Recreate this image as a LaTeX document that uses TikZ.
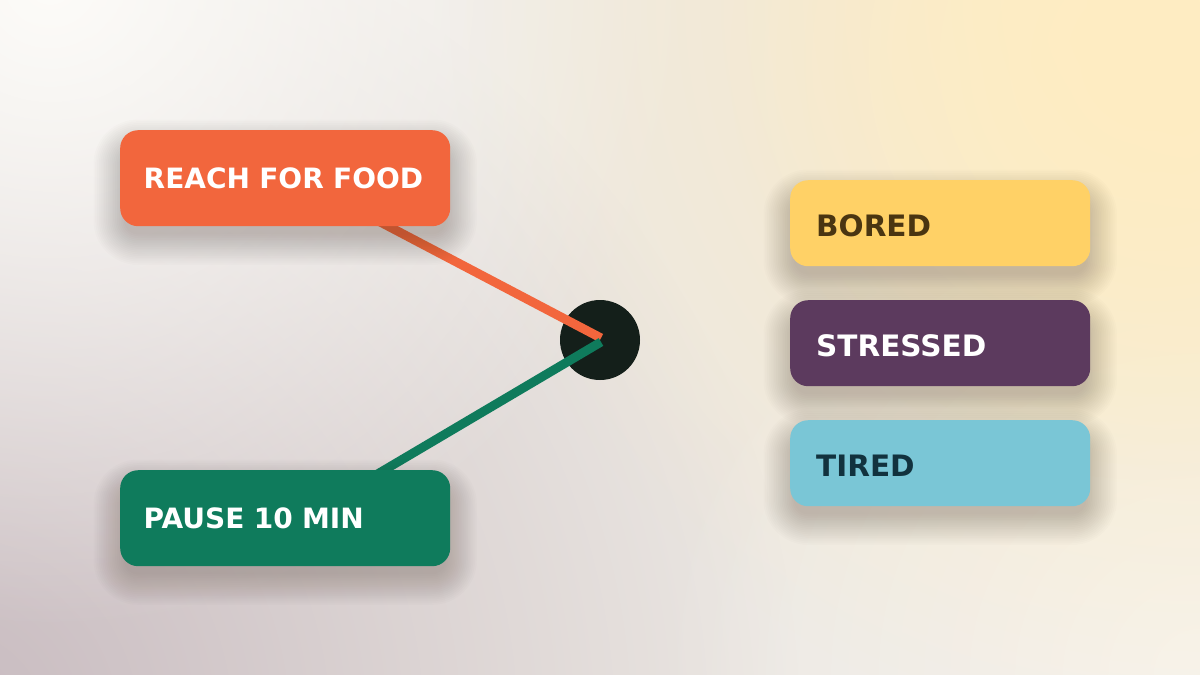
\documentclass[tikz,border=0pt]{standalone}
\usepackage{fontspec}
\setmainfont{DejaVu Sans}
\usetikzlibrary{fadings,calc}
\definecolor{bgbase}{HTML}{ECE8E3}
\definecolor{bgyellow}{HTML}{FFEDC2}
\definecolor{bgmauve}{HTML}{C8BBC0}
\definecolor{bgwhite}{HTML}{FDFCF9}
\definecolor{bglight}{HTML}{F7F4EF}
\definecolor{reachc}{HTML}{F2663D}
\definecolor{pausec}{HTML}{0F7B5C}
\definecolor{boredc}{HTML}{FFD166}
\definecolor{stressc}{HTML}{5C3A5E}
\definecolor{tiredc}{HTML}{7AC6D6}
\definecolor{hubc}{HTML}{141F1A}
\definecolor{boredtext}{HTML}{4A3511}
\definecolor{tiredtext}{HTML}{12323E}
\definecolor{shadowc}{HTML}{4A3A30}
\tikzfading[name=glow, inner color=transparent!0, outer color=transparent!100]
\pgfdeclarelayer{bglayer}
\pgfdeclarelayer{linelayer}
\pgfdeclarelayer{shadowlayer}
\pgfsetlayers{bglayer,linelayer,shadowlayer,main}
\tikzset{
  box/.style={rectangle, rounded corners=18pt, anchor=north west, align=left},
  leftbox/.style={box, minimum width=330pt, minimum height=96pt,
    text width=283pt, inner xsep=23.5pt, inner ysep=0pt,
    font=\fontsize{28}{33}\selectfont\bfseries, text height=20.4pt, text depth=0pt},
  rightbox/.style={box, minimum width=300pt, minimum height=86pt,
    text width=248pt, inner xsep=26pt, inner ysep=0pt,
    font=\fontsize{29.5}{34}\selectfont\bfseries, text height=26pt, text depth=0pt},
  hub/.style={circle, fill=hubc, minimum size=80pt, inner sep=0pt},
  link/.style={line width=9pt},
}
\begin{document}
\begin{tikzpicture}[x=1pt,y=-1pt]
\useasboundingbox (0,0) rectangle (1200,675);
\begin{pgfonlayer}{bglayer}
  \fill[bgbase] (0,0) rectangle (1200,675);
  \begin{scope}
    \clip (0,0) rectangle (1200,675);
    \fill[bgmauve, path fading=glow] (-50,725) circle (850);
    \fill[bgwhite, path fading=glow] (50,-20) circle (650);
    \fill[bglight, path fading=glow] (1200,675) circle (550);
    \fill[bgyellow, path fading=glow] (1200,0) circle (750);
    \fill[bgyellow, path fading=glow] (1150,60) circle (420);
  \end{scope}
\end{pgfonlayer}

\node[leftbox, fill=reachc, text=white] (reach) at (120,130) {REACH FOR FOOD};
\node[leftbox, fill=pausec, text=white] (pause) at (120,470) {PAUSE 10 MIN};
\node[rightbox, fill=boredc, text=boredtext] (bored) at (790,180) {BORED};
\node[rightbox, fill=stressc, text=white] (stressed) at (790,300) {STRESSED};
\node[rightbox, fill=tiredc, text=tiredtext] (tired) at (790,420) {TIRED};

\begin{pgfonlayer}{linelayer}
  \node[hub] (hub) at (600,340) {};
  \draw[link, reachc] ([xshift=92pt,yshift=6pt]reach.south) -- ([shift={(1,-2)}]hub.center);
  \draw[link, pausec] ([xshift=89pt,yshift=-6pt]pause.north) -- ([shift={(1,2)}]hub.center);
\end{pgfonlayer}

\begin{pgfonlayer}{shadowlayer}
  \foreach \n in {reach,pause,bored,stressed,tired}{
    \foreach \i in {1,...,18}{
      \fill[shadowc, opacity=0.015, rounded corners={12pt+\i*1.8pt}]
        ([shift={(-\i*1.8+6,-\i*1.8+8+14)}]\n.north west) rectangle
        ([shift={(\i*1.8-6,\i*1.8-8+14)}]\n.south east);
    }
  }
\end{pgfonlayer}
\end{tikzpicture}
\end{document}
